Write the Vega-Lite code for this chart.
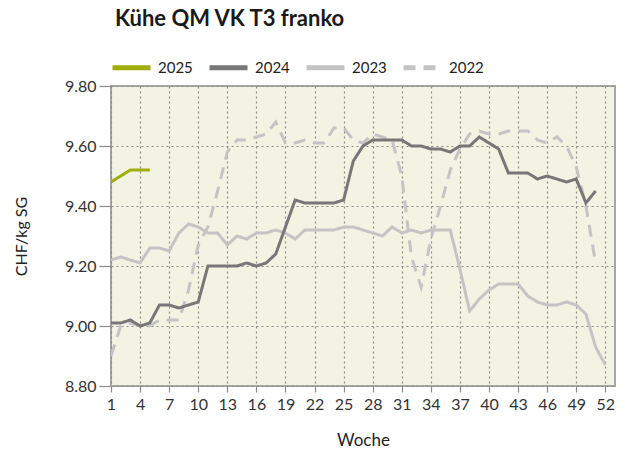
{
  "$schema": "https://vega.github.io/schema/vega-lite/v6.json",
  "autosize": "none",
  "width": 504,
  "height": 300,
  "padding": {"left": 111, "top": 86, "right": 15, "bottom": 68},
  "background": "white",
  "title": {"text": "Kühe QM VK T3 franko", "anchor": "start", "frame": "group", "dx": 4, "offset": 15, "font": "Lato", "fontSize": 22, "fontWeight": "bold", "color": "#1a1a1a"},
  "config": {
    "font": "Lato",
    "view": {"fill": "#f3f3e3", "stroke": "#a6a6a6", "strokeWidth": 2}
  },
  "datasets": {
    "prices": [
      {"Woche":1,"Jahr":"2022","Preis":8.90},{"Woche":2,"Jahr":"2022","Preis":9.00},{"Woche":3,"Jahr":"2022","Preis":9.01},{"Woche":4,"Jahr":"2022","Preis":9.00},{"Woche":5,"Jahr":"2022","Preis":9.00},{"Woche":6,"Jahr":"2022","Preis":9.02},{"Woche":7,"Jahr":"2022","Preis":9.02},{"Woche":8,"Jahr":"2022","Preis":9.02},{"Woche":9,"Jahr":"2022","Preis":9.12},{"Woche":10,"Jahr":"2022","Preis":9.27},{"Woche":11,"Jahr":"2022","Preis":9.33},{"Woche":12,"Jahr":"2022","Preis":9.45},{"Woche":13,"Jahr":"2022","Preis":9.58},{"Woche":14,"Jahr":"2022","Preis":9.62},{"Woche":15,"Jahr":"2022","Preis":9.62},{"Woche":16,"Jahr":"2022","Preis":9.63},{"Woche":17,"Jahr":"2022","Preis":9.64},{"Woche":18,"Jahr":"2022","Preis":9.68},{"Woche":19,"Jahr":"2022","Preis":9.61},{"Woche":20,"Jahr":"2022","Preis":9.61},{"Woche":21,"Jahr":"2022","Preis":9.62},{"Woche":22,"Jahr":"2022","Preis":9.61},{"Woche":23,"Jahr":"2022","Preis":9.61},{"Woche":24,"Jahr":"2022","Preis":9.66},{"Woche":25,"Jahr":"2022","Preis":9.66},{"Woche":26,"Jahr":"2022","Preis":9.62},{"Woche":27,"Jahr":"2022","Preis":9.61},{"Woche":28,"Jahr":"2022","Preis":9.64},{"Woche":29,"Jahr":"2022","Preis":9.63},{"Woche":30,"Jahr":"2022","Preis":9.62},{"Woche":31,"Jahr":"2022","Preis":9.50},{"Woche":32,"Jahr":"2022","Preis":9.23},{"Woche":33,"Jahr":"2022","Preis":9.13},{"Woche":34,"Jahr":"2022","Preis":9.29},{"Woche":35,"Jahr":"2022","Preis":9.40},{"Woche":36,"Jahr":"2022","Preis":9.52},{"Woche":37,"Jahr":"2022","Preis":9.59},{"Woche":38,"Jahr":"2022","Preis":9.64},{"Woche":39,"Jahr":"2022","Preis":9.65},{"Woche":40,"Jahr":"2022","Preis":9.64},{"Woche":41,"Jahr":"2022","Preis":9.64},{"Woche":42,"Jahr":"2022","Preis":9.65},{"Woche":43,"Jahr":"2022","Preis":9.65},{"Woche":44,"Jahr":"2022","Preis":9.65},{"Woche":45,"Jahr":"2022","Preis":9.62},{"Woche":46,"Jahr":"2022","Preis":9.61},{"Woche":47,"Jahr":"2022","Preis":9.63},{"Woche":48,"Jahr":"2022","Preis":9.60},{"Woche":49,"Jahr":"2022","Preis":9.53},{"Woche":50,"Jahr":"2022","Preis":9.40},{"Woche":51,"Jahr":"2022","Preis":9.21},
      {"Woche":1,"Jahr":"2023","Preis":9.22},{"Woche":2,"Jahr":"2023","Preis":9.23},{"Woche":3,"Jahr":"2023","Preis":9.22},{"Woche":4,"Jahr":"2023","Preis":9.21},{"Woche":5,"Jahr":"2023","Preis":9.26},{"Woche":6,"Jahr":"2023","Preis":9.26},{"Woche":7,"Jahr":"2023","Preis":9.25},{"Woche":8,"Jahr":"2023","Preis":9.31},{"Woche":9,"Jahr":"2023","Preis":9.34},{"Woche":10,"Jahr":"2023","Preis":9.33},{"Woche":11,"Jahr":"2023","Preis":9.31},{"Woche":12,"Jahr":"2023","Preis":9.31},{"Woche":13,"Jahr":"2023","Preis":9.27},{"Woche":14,"Jahr":"2023","Preis":9.30},{"Woche":15,"Jahr":"2023","Preis":9.29},{"Woche":16,"Jahr":"2023","Preis":9.31},{"Woche":17,"Jahr":"2023","Preis":9.31},{"Woche":18,"Jahr":"2023","Preis":9.32},{"Woche":19,"Jahr":"2023","Preis":9.31},{"Woche":20,"Jahr":"2023","Preis":9.29},{"Woche":21,"Jahr":"2023","Preis":9.32},{"Woche":22,"Jahr":"2023","Preis":9.32},{"Woche":23,"Jahr":"2023","Preis":9.32},{"Woche":24,"Jahr":"2023","Preis":9.32},{"Woche":25,"Jahr":"2023","Preis":9.33},{"Woche":26,"Jahr":"2023","Preis":9.33},{"Woche":27,"Jahr":"2023","Preis":9.32},{"Woche":28,"Jahr":"2023","Preis":9.31},{"Woche":29,"Jahr":"2023","Preis":9.30},{"Woche":30,"Jahr":"2023","Preis":9.33},{"Woche":31,"Jahr":"2023","Preis":9.31},{"Woche":32,"Jahr":"2023","Preis":9.32},{"Woche":33,"Jahr":"2023","Preis":9.31},{"Woche":34,"Jahr":"2023","Preis":9.32},{"Woche":35,"Jahr":"2023","Preis":9.32},{"Woche":36,"Jahr":"2023","Preis":9.32},{"Woche":37,"Jahr":"2023","Preis":9.19},{"Woche":38,"Jahr":"2023","Preis":9.05},{"Woche":39,"Jahr":"2023","Preis":9.09},{"Woche":40,"Jahr":"2023","Preis":9.12},{"Woche":41,"Jahr":"2023","Preis":9.14},{"Woche":42,"Jahr":"2023","Preis":9.14},{"Woche":43,"Jahr":"2023","Preis":9.14},{"Woche":44,"Jahr":"2023","Preis":9.10},{"Woche":45,"Jahr":"2023","Preis":9.08},{"Woche":46,"Jahr":"2023","Preis":9.07},{"Woche":47,"Jahr":"2023","Preis":9.07},{"Woche":48,"Jahr":"2023","Preis":9.08},{"Woche":49,"Jahr":"2023","Preis":9.07},{"Woche":50,"Jahr":"2023","Preis":9.04},{"Woche":51,"Jahr":"2023","Preis":8.93},{"Woche":52,"Jahr":"2023","Preis":8.87},
      {"Woche":1,"Jahr":"2024","Preis":9.01},{"Woche":2,"Jahr":"2024","Preis":9.01},{"Woche":3,"Jahr":"2024","Preis":9.02},{"Woche":4,"Jahr":"2024","Preis":9.00},{"Woche":5,"Jahr":"2024","Preis":9.01},{"Woche":6,"Jahr":"2024","Preis":9.07},{"Woche":7,"Jahr":"2024","Preis":9.07},{"Woche":8,"Jahr":"2024","Preis":9.06},{"Woche":9,"Jahr":"2024","Preis":9.07},{"Woche":10,"Jahr":"2024","Preis":9.08},{"Woche":11,"Jahr":"2024","Preis":9.20},{"Woche":12,"Jahr":"2024","Preis":9.20},{"Woche":13,"Jahr":"2024","Preis":9.20},{"Woche":14,"Jahr":"2024","Preis":9.20},{"Woche":15,"Jahr":"2024","Preis":9.21},{"Woche":16,"Jahr":"2024","Preis":9.20},{"Woche":17,"Jahr":"2024","Preis":9.21},{"Woche":18,"Jahr":"2024","Preis":9.24},{"Woche":19,"Jahr":"2024","Preis":9.33},{"Woche":20,"Jahr":"2024","Preis":9.42},{"Woche":21,"Jahr":"2024","Preis":9.41},{"Woche":22,"Jahr":"2024","Preis":9.41},{"Woche":23,"Jahr":"2024","Preis":9.41},{"Woche":24,"Jahr":"2024","Preis":9.41},{"Woche":25,"Jahr":"2024","Preis":9.42},{"Woche":26,"Jahr":"2024","Preis":9.55},{"Woche":27,"Jahr":"2024","Preis":9.60},{"Woche":28,"Jahr":"2024","Preis":9.62},{"Woche":29,"Jahr":"2024","Preis":9.62},{"Woche":30,"Jahr":"2024","Preis":9.62},{"Woche":31,"Jahr":"2024","Preis":9.62},{"Woche":32,"Jahr":"2024","Preis":9.60},{"Woche":33,"Jahr":"2024","Preis":9.60},{"Woche":34,"Jahr":"2024","Preis":9.59},{"Woche":35,"Jahr":"2024","Preis":9.59},{"Woche":36,"Jahr":"2024","Preis":9.58},{"Woche":37,"Jahr":"2024","Preis":9.60},{"Woche":38,"Jahr":"2024","Preis":9.60},{"Woche":39,"Jahr":"2024","Preis":9.63},{"Woche":40,"Jahr":"2024","Preis":9.61},{"Woche":41,"Jahr":"2024","Preis":9.59},{"Woche":42,"Jahr":"2024","Preis":9.51},{"Woche":43,"Jahr":"2024","Preis":9.51},{"Woche":44,"Jahr":"2024","Preis":9.51},{"Woche":45,"Jahr":"2024","Preis":9.49},{"Woche":46,"Jahr":"2024","Preis":9.50},{"Woche":47,"Jahr":"2024","Preis":9.49},{"Woche":48,"Jahr":"2024","Preis":9.48},{"Woche":49,"Jahr":"2024","Preis":9.49},{"Woche":50,"Jahr":"2024","Preis":9.41},{"Woche":51,"Jahr":"2024","Preis":9.45},
      {"Woche":1,"Jahr":"2025","Preis":9.48},{"Woche":2,"Jahr":"2025","Preis":9.50},{"Woche":3,"Jahr":"2025","Preis":9.52},{"Woche":4,"Jahr":"2025","Preis":9.52},{"Woche":5,"Jahr":"2025","Preis":9.52}
    ]
  },
  "data": {"name": "prices"},
  "mark": {"type": "line", "strokeWidth": 3, "clip": true},
  "encoding": {
    "x": {
      "field": "Woche", "type": "quantitative",
      "scale": {"domain": [1, 53], "nice": false, "zero": false},
      "axis": {
        "title": "Woche", "values": [1,4,7,10,13,16,19,22,25,28,31,34,37,40,43,46,49,52],
        "domain": false, "tickColor": "#8c8c8c", "tickSize": 6, "tickWidth": 1.2,
        "labelFontSize": 16, "labelColor": "#333333", "labelPadding": 4, "labelFlush": false,
        "titleFontSize": 17, "titleFontWeight": "normal", "titleColor": "#222222", "titlePadding": 20,
        "grid": true, "gridColor": "#8c8c8c", "gridDash": [2, 3], "gridWidth": 1.2
      }
    },
    "y": {
      "field": "Preis", "type": "quantitative",
      "scale": {"domain": [8.8, 9.8], "nice": false, "zero": false},
      "axis": {
        "title": "CHF/kg SG", "values": [8.8, 9.0, 9.2, 9.4, 9.6, 9.8], "format": ".2f",
        "domain": false, "tickColor": "#8c8c8c", "tickSize": 12, "tickWidth": 1.2,
        "labelFontSize": 16, "labelColor": "#333333", "labelPadding": 3,
        "titleFontSize": 16, "titleFontWeight": "normal", "titleColor": "#222222", "titlePadding": 35,
        "grid": true, "gridColor": "#8c8c8c", "gridDash": [2, 3], "gridWidth": 1.2
      }
    },
    "color": {
      "field": "Jahr", "type": "nominal",
      "scale": {"domain": ["2025", "2024", "2023", "2022"], "range": ["#9fae0c", "#777777", "#c4c4c4", "#c4c4c4"]},
      "legend": {
        "title": null, "orient": "none", "legendX": -1, "legendY": -40, "direction": "horizontal", "columns": 4,
        "symbolType": "stroke", "symbolSize": 1444, "symbolStrokeWidth": 5, "labelFontSize": 15, "labelColor": "#222222",
        "labelOffset": 5, "columnPadding": 6
      }
    },
    "strokeDash": {
      "field": "Jahr", "type": "nominal",
      "scale": {"domain": ["2025", "2024", "2023", "2022"], "range": [[1, 0], [1, 0], [1, 0], [12, 8]]},
      "legend": {
        "title": null, "orient": "none", "legendX": -1, "legendY": -40, "direction": "horizontal", "columns": 4,
        "symbolType": "stroke", "symbolSize": 1444, "symbolStrokeWidth": 5, "labelFontSize": 15, "labelColor": "#222222",
        "labelOffset": 5, "columnPadding": 6
      }
    }
  }
}
